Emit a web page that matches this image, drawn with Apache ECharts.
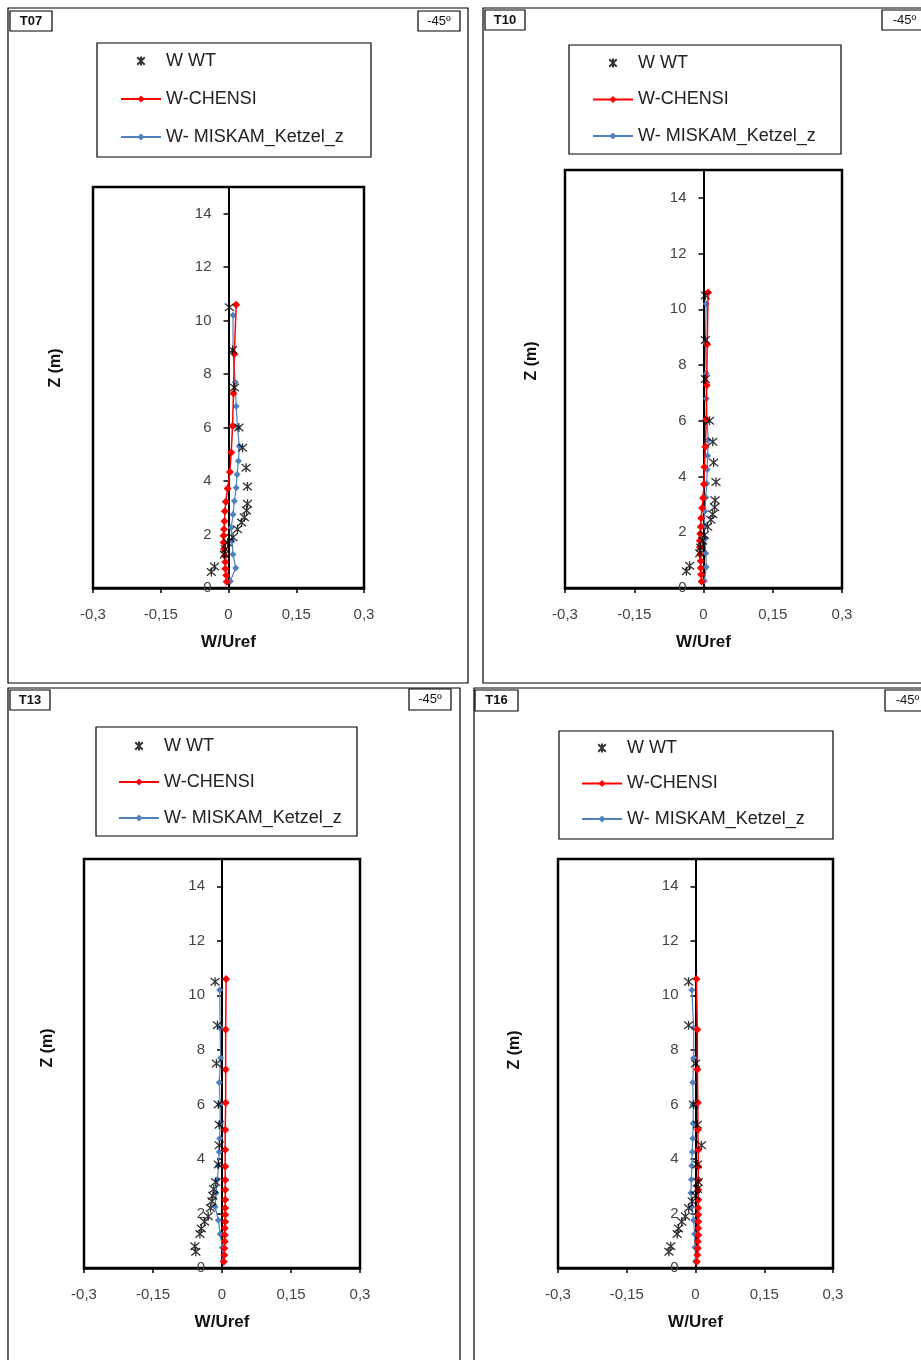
<!DOCTYPE html>
<html><head><meta charset="utf-8">
<script src="https://cdn.jsdelivr.net/npm/echarts@6/dist/echarts.min.js"></script>
<style>html,body{margin:0;padding:0;background:#fff}#c{width:921px;height:1360px}</style>
</head><body><div id="c"></div>
<script>
// ---------------- data ----------------
const PANELS = ['T07', 'T10', 'T13', 'T16'];
const DIRECTION = '-45º';
const SERIES_NAMES = ['W WT', 'W-CHENSI', 'W- MISKAM_Ketzel_z'];
const X_NAME = 'W/Uref';
const Y_NAME = 'Z (m)';
const X_TICKS = [-0.3, -0.15, 0, 0.15, 0.3];
const Y_TICKS = [0, 2, 4, 6, 8, 10, 12, 14];

const Z_WT = [0.6, 0.8, 1.25, 1.45, 1.7, 1.9, 2.2, 2.45, 2.65, 2.9, 3.15, 3.8, 4.5, 5.25, 6.0, 7.5, 8.9, 10.5];
const Z_CHENSI = [0.23, 0.48, 0.72, 0.97, 1.21, 1.46, 1.70, 1.95, 2.20, 2.50, 2.87, 3.23, 3.72, 4.34, 5.07, 6.06, 7.28, 8.75, 10.6];
const Z_MISKAM = [0.25, 0.75, 1.25, 1.75, 2.25, 2.75, 3.25, 3.75, 4.25, 4.75, 5.3, 6.0, 6.8, 7.7, 8.8, 10.2];

const T07_WT = [-0.038, -0.031, -0.009, -0.007, -0.002, 0.010, 0.020, 0.029, 0.035, 0.040, 0.042, 0.042, 0.039, 0.031, 0.023, 0.013, 0.009, 0.002];
const T10_WT = [-0.037, -0.030, -0.008, -0.006, -0.002, 0.002, 0.009, 0.016, 0.020, 0.024, 0.025, 0.027, 0.022, 0.020, 0.013, 0.004, 0.004, 0.004];
const T13_WT = [-0.057, -0.059, -0.048, -0.045, -0.038, -0.030, -0.025, -0.022, -0.020, -0.018, -0.014, -0.008, -0.006, -0.006, -0.008, -0.012, -0.010, -0.015];
const T16_WT = [-0.058, -0.054, -0.040, -0.037, -0.030, -0.022, -0.015, -0.007, 0.000, 0.004, 0.006, 0.004, 0.013, 0.004, -0.004, 0.000, -0.015, -0.015];

const T07_CHENSI = [-0.004, -0.005, -0.007, -0.007, -0.008, -0.010, -0.011, -0.011, -0.010, -0.009, -0.008, -0.006, -0.002, 0.003, 0.006, 0.009, 0.011, 0.013, 0.017];
const T10_CHENSI = [-0.004, -0.005, -0.006, -0.006, -0.007, -0.008, -0.008, -0.007, -0.006, -0.005, -0.003, -0.001, 0.001, 0.002, 0.004, 0.006, 0.007, 0.008, 0.010];
const T13_CHENSI = [0.004, 0.005, 0.005, 0.006, 0.006, 0.006, 0.007, 0.007, 0.007, 0.007, 0.007, 0.007, 0.007, 0.007, 0.007, 0.008, 0.008, 0.008, 0.009];
const T16_CHENSI = [0.003, 0.004, 0.005, 0.005, 0.006, 0.006, 0.006, 0.006, 0.006, 0.006, 0.006, 0.006, 0.006, 0.006, 0.005, 0.005, 0.004, 0.004, 0.002];

const T07_MISKAM = [0.004, 0.016, 0.010, 0.008, 0.006, 0.010, 0.013, 0.017, 0.019, 0.022, 0.024, 0.020, 0.017, 0.015, 0.010, 0.010];
const T10_MISKAM = [0.002, 0.006, 0.005, 0.003, 0.002, 0.003, 0.005, 0.007, 0.008, 0.009, 0.010, 0.008, 0.006, 0.006, 0.004, 0.006];
const T13_MISKAM = [0.002, 0.001, -0.004, -0.008, -0.015, -0.013, -0.010, -0.008, -0.006, -0.005, -0.004, -0.004, -0.006, -0.003, -0.004, -0.005];
const T16_MISKAM = [0.000, -0.001, -0.002, -0.004, -0.008, -0.010, -0.009, -0.008, -0.007, -0.006, -0.005, -0.005, -0.006, -0.004, -0.004, -0.008];

// ---------------- layout ----------------
const PANEL_DATA = [
  [T07_WT, T07_CHENSI, T07_MISKAM],
  [T10_WT, T10_CHENSI, T10_MISKAM],
  [T13_WT, T13_CHENSI, T13_MISKAM],
  [T16_WT, T16_CHENSI, T16_MISKAM]
];
const LAYOUT = [
  {frame: [8, 8, 460, 675], tag: [10, 11, 42, 20], dir: [418, 11, 42, 20], plot: [93, 187, 271, 401],
   legBox: [97, 43, 274, 114], leg: [120, 51, 18], yname: [56, 368]},
  {frame: [483, 8, 460, 675], tag: [485, 10, 40, 20], dir: [882, 10, 45, 20], plot: [565, 170, 277, 418],
   legBox: [569, 45, 272, 109], leg: [592, 53, 16.5], yname: [532, 361]},
  {frame: [8, 688, 452, 700], tag: [10, 690, 40, 20], dir: [409, 689, 42, 21], plot: [84, 859, 276, 409],
   legBox: [96, 727, 261, 109], leg: [118, 736, 16], yname: [48, 1048]},
  {frame: [474, 688, 460, 700], tag: [475, 690, 43, 21], dir: [885, 690, 45, 21], plot: [558, 859, 275, 409],
   legBox: [559, 731, 274, 108], leg: [581, 738, 15.5], yname: [515, 1050]}
];
const FONT = '"Liberation Sans", Arial, sans-serif';
const STAR = 'path://M0,0L10,10M0,10L10,0M5,-1L5,11';

const zip = (w, z) => w.map((v, i) => [v, z[i]]);
const fmt = v => String(+(+v).toFixed(2)).replace('.', ',');

const grid = [], xAxis = [], yAxis = [], series = [], legend = [], graphic = [];
PANELS.forEach((p, i) => {
  const L = LAYOUT[i];
  const [wt, ch, mi] = PANEL_DATA[i];
  grid.push({left: L.plot[0], top: L.plot[1], width: L.plot[2], height: L.plot[3],
    show: true, borderColor: '#000', borderWidth: 2.5, backgroundColor: 'transparent', containLabel: false});
  xAxis.push({type: 'value', gridIndex: i, min: -0.3, max: 0.3, interval: 0.15, position: 'bottom',
    axisLine: {onZero: false, lineStyle: {color: '#000', width: 2.5}},
    axisTick: {show: true, length: 5, lineStyle: {color: '#000', width: 1.5}},
    axisLabel: {margin: 19, fontSize: 15, color: '#444', fontFamily: FONT, formatter: fmt,
      customValues: X_TICKS},
    splitLine: {show: false},
    name: X_NAME, nameLocation: 'middle', nameGap: 46,
    nameTextStyle: {fontWeight: 'bold', fontSize: 17, color: '#111', fontFamily: FONT}});
  // the vertical axis sits on W = 0, which is the centre of the symmetric x range
  yAxis.push({type: 'value', gridIndex: i, min: 0, max: 15, position: 'left', offset: -L.plot[2] / 2,
    axisLine: {onZero: false, lineStyle: {color: '#000', width: 2}},
    axisTick: {show: true, length: 5, customValues: Y_TICKS, lineStyle: {color: '#000', width: 1.5}},
    axisLabel: {margin: 17, fontSize: 15, color: '#444', fontFamily: FONT, customValues: Y_TICKS},
    splitLine: {show: false}});
  series.push({name: SERIES_NAMES[1], type: 'line', xAxisIndex: i, yAxisIndex: i, data: zip(ch, Z_CHENSI),
    color: '#FF0000', symbol: 'diamond', symbolSize: 8, showSymbol: true,
    lineStyle: {color: '#FF0000', width: 1.5}, itemStyle: {color: '#FF0000'}, z: 3});
  series.push({name: SERIES_NAMES[2], type: 'line', xAxisIndex: i, yAxisIndex: i, data: zip(mi, Z_MISKAM),
    color: '#4F81BD', symbol: 'diamond', symbolSize: 7, showSymbol: true,
    lineStyle: {color: '#4F81BD', width: 1.2}, itemStyle: {color: '#4F81BD'}, z: 2});
  series.push({name: SERIES_NAMES[0], type: 'scatter', xAxisIndex: i, yAxisIndex: i, data: zip(wt, Z_WT),
    symbol: STAR, symbolSize: 9, itemStyle: {color: '#000', borderColor: '#000', borderWidth: 1.3}, z: 4});
  legend.push({data: SERIES_NAMES, orient: 'vertical', left: L.leg[0], top: L.leg[1], itemGap: L.leg[2],
    itemWidth: 40, itemHeight: 9, selectedMode: false, padding: 0,
    textStyle: {fontSize: 18, color: '#222', fontFamily: FONT, lineHeight: 20}});
  graphic.push({type: 'rect', shape: {x: L.frame[0], y: L.frame[1], width: L.frame[2], height: L.frame[3]},
    style: {fill: 'none', stroke: '#000', lineWidth: 1.2}, z: 1});
  graphic.push({type: 'rect', shape: {x: L.legBox[0], y: L.legBox[1], width: L.legBox[2], height: L.legBox[3]},
    style: {fill: 'none', stroke: '#000', lineWidth: 1.2}, z: 1});
  [[L.tag, p, 'bold'], [L.dir, DIRECTION, 'normal']].forEach(([b, t, fw]) => {
    graphic.push({type: 'rect', shape: {x: b[0], y: b[1], width: b[2], height: b[3]},
      style: {fill: '#fff', stroke: '#000', lineWidth: 1.2}, z: 2});
    graphic.push({type: 'text', x: b[0] + b[2] / 2, y: b[1] + b[3] / 2,
      style: {text: t, fontSize: 13, fontWeight: fw, fontFamily: FONT, fill: '#111',
        textAlign: 'center', textVerticalAlign: 'middle'}, z: 3});
  });
  graphic.push({type: 'text', x: L.yname[0], y: L.yname[1], rotation: Math.PI / 2,
    style: {text: Y_NAME, fontSize: 16, fontWeight: 'bold', fontFamily: FONT, fill: '#111',
      textAlign: 'center', textVerticalAlign: 'middle'}, z: 3});
});

const chart = echarts.init(document.getElementById('c'), null, {renderer: 'canvas'});
chart.setOption({animation: false, backgroundColor: '#fff', grid, xAxis, yAxis, series, legend, graphic});
</script></body></html>
